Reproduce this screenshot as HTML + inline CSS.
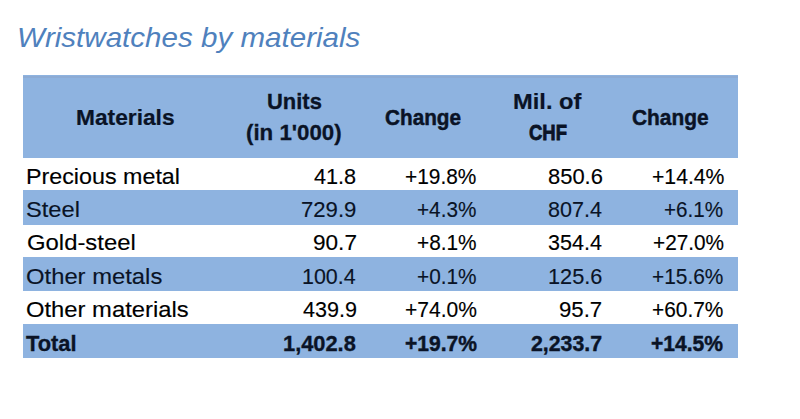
<!DOCTYPE html>
<html><head><meta charset="utf-8"><style>
html,body{margin:0;padding:0;background:#fff;width:800px;height:419px;overflow:hidden}
body{position:relative;font-family:"Liberation Sans",sans-serif}
.t{position:absolute;white-space:nowrap;line-height:normal;transform-origin:0 0}
.b{position:absolute;background:#8EB3E0}
</style></head><body>
<div class="b" style="left:23px;top:75.2px;width:714.5px;height:83.3px"></div><div class="b" style="left:23px;top:190.3px;width:714.5px;height:34.3px"></div><div class="b" style="left:23px;top:257.2px;width:714.5px;height:34.1px"></div><div class="b" style="left:23px;top:324.0px;width:714.5px;height:34.0px"></div><div class="b" style="left:23px;top:76px;width:714.5px;height:2px;background:#8DABD4"></div><div class="t" style="left:17.10px;top:21.56px;font-size:28.00px;font-weight:normal;font-style:italic;transform:scaleX(1.0559);color:#4F81BD;">Wristwatches by materials</div><div class="t" style="left:75.60px;top:103.62px;font-size:22.97px;font-weight:bold;font-style:normal;transform:scaleX(0.9899);color:#0a1326;-webkit-text-stroke:0.23px #0a1326;">Materials</div><div class="t" style="left:267.10px;top:87.72px;font-size:22.97px;font-weight:bold;font-style:normal;transform:scaleX(0.9552);color:#0a1326;-webkit-text-stroke:0.34px #0a1326;">Units</div><div class="t" style="left:246.00px;top:119.22px;font-size:22.97px;font-weight:bold;font-style:normal;transform:scaleX(0.9693);color:#0a1326;-webkit-text-stroke:0.30px #0a1326;">(in 1'000)</div><div class="t" style="left:384.80px;top:103.62px;font-size:22.97px;font-weight:bold;font-style:normal;transform:scaleX(0.9028);color:#0a1326;-webkit-text-stroke:0.51px #0a1326;">Change</div><div class="t" style="left:513.20px;top:87.72px;font-size:22.97px;font-weight:bold;font-style:normal;transform:scaleX(1.0313);color:#0a1326;-webkit-text-stroke:0.20px #0a1326;">Mil. of</div><div class="t" style="left:529.00px;top:119.22px;font-size:22.97px;font-weight:bold;font-style:normal;transform:scaleX(0.8049);color:#0a1326;-webkit-text-stroke:0.82px #0a1326;">CHF</div><div class="t" style="left:632.20px;top:103.62px;font-size:22.97px;font-weight:bold;font-style:normal;transform:scaleX(0.9099);color:#0a1326;-webkit-text-stroke:0.49px #0a1326;">Change</div><div class="t" style="left:26.00px;top:163.02px;font-size:22.97px;font-weight:normal;font-style:normal;transform:scaleX(1.0137);color:#000;-webkit-text-stroke:0.15px #000;">Precious metal</div><div class="t" style="left:313.90px;top:163.02px;font-size:22.97px;font-weight:normal;font-style:normal;transform:scaleX(0.9429);color:#000;-webkit-text-stroke:0.15px #000;">41.8</div><div class="t" style="left:405.10px;top:163.02px;font-size:22.97px;font-weight:normal;font-style:normal;transform:scaleX(0.9083);color:#000;-webkit-text-stroke:0.15px #000;">+19.8%</div><div class="t" style="left:548.20px;top:163.02px;font-size:22.97px;font-weight:normal;font-style:normal;transform:scaleX(0.9555);color:#000;-webkit-text-stroke:0.15px #000;">850.6</div><div class="t" style="left:651.70px;top:163.02px;font-size:22.97px;font-weight:normal;font-style:normal;transform:scaleX(0.9224);color:#000;-webkit-text-stroke:0.15px #000;">+14.4%</div><div class="t" style="left:26.10px;top:196.02px;font-size:22.97px;font-weight:normal;font-style:normal;transform:scaleX(1.0307);color:#0a1326;-webkit-text-stroke:0.15px #0a1326;">Steel</div><div class="t" style="left:301.10px;top:196.02px;font-size:22.97px;font-weight:normal;font-style:normal;transform:scaleX(0.9636);color:#0a1326;-webkit-text-stroke:0.15px #0a1326;">729.9</div><div class="t" style="left:417.00px;top:196.02px;font-size:22.97px;font-weight:normal;font-style:normal;transform:scaleX(0.9028);color:#0a1326;-webkit-text-stroke:0.15px #0a1326;">+4.3%</div><div class="t" style="left:548.10px;top:196.02px;font-size:22.97px;font-weight:normal;font-style:normal;transform:scaleX(0.9371);color:#0a1326;-webkit-text-stroke:0.15px #0a1326;">807.4</div><div class="t" style="left:664.00px;top:196.02px;font-size:22.97px;font-weight:normal;font-style:normal;transform:scaleX(0.8989);color:#0a1326;-webkit-text-stroke:0.15px #0a1326;">+6.1%</div><div class="t" style="left:26.60px;top:229.22px;font-size:22.97px;font-weight:normal;font-style:normal;transform:scaleX(1.0392);color:#000;-webkit-text-stroke:0.15px #000;">Gold-steel</div><div class="t" style="left:312.95px;top:229.22px;font-size:22.97px;font-weight:normal;font-style:normal;transform:scaleX(0.9829);color:#000;-webkit-text-stroke:0.15px #000;">90.7</div><div class="t" style="left:417.00px;top:229.22px;font-size:22.97px;font-weight:normal;font-style:normal;transform:scaleX(0.9062);color:#000;-webkit-text-stroke:0.15px #000;">+8.1%</div><div class="t" style="left:548.10px;top:229.22px;font-size:22.97px;font-weight:normal;font-style:normal;transform:scaleX(0.9371);color:#000;-webkit-text-stroke:0.15px #000;">354.4</div><div class="t" style="left:652.95px;top:229.22px;font-size:22.97px;font-weight:normal;font-style:normal;transform:scaleX(0.9049);color:#000;-webkit-text-stroke:0.15px #000;">+27.0%</div><div class="t" style="left:26.00px;top:263.12px;font-size:22.97px;font-weight:normal;font-style:normal;transform:scaleX(1.0366);color:#0a1326;-webkit-text-stroke:0.15px #0a1326;">Other metals</div><div class="t" style="left:302.05px;top:263.12px;font-size:22.97px;font-weight:normal;font-style:normal;transform:scaleX(0.9336);color:#0a1326;-webkit-text-stroke:0.15px #0a1326;">100.4</div><div class="t" style="left:417.00px;top:263.12px;font-size:22.97px;font-weight:normal;font-style:normal;transform:scaleX(0.9062);color:#0a1326;-webkit-text-stroke:0.15px #0a1326;">+0.1%</div><div class="t" style="left:547.90px;top:263.12px;font-size:22.97px;font-weight:normal;font-style:normal;transform:scaleX(0.9459);color:#0a1326;-webkit-text-stroke:0.15px #0a1326;">125.6</div><div class="t" style="left:652.20px;top:263.12px;font-size:22.97px;font-weight:normal;font-style:normal;transform:scaleX(0.9094);color:#0a1326;-webkit-text-stroke:0.15px #0a1326;">+15.6%</div><div class="t" style="left:26.00px;top:296.22px;font-size:22.97px;font-weight:normal;font-style:normal;transform:scaleX(1.0356);color:#000;-webkit-text-stroke:0.15px #000;">Other materials</div><div class="t" style="left:303.10px;top:296.22px;font-size:22.97px;font-weight:normal;font-style:normal;transform:scaleX(0.9380);color:#000;-webkit-text-stroke:0.15px #000;">439.9</div><div class="t" style="left:405.10px;top:296.22px;font-size:22.97px;font-weight:normal;font-style:normal;transform:scaleX(0.9149);color:#000;-webkit-text-stroke:0.15px #000;">+74.0%</div><div class="t" style="left:559.10px;top:296.22px;font-size:22.97px;font-weight:normal;font-style:normal;transform:scaleX(0.9654);color:#000;-webkit-text-stroke:0.15px #000;">95.7</div><div class="t" style="left:652.20px;top:296.22px;font-size:22.97px;font-weight:normal;font-style:normal;transform:scaleX(0.9094);color:#000;-webkit-text-stroke:0.15px #000;">+60.7%</div><div class="t" style="left:26.10px;top:330.22px;font-size:22.97px;font-weight:bold;font-style:normal;transform:scaleX(0.9519);color:#0a1326;-webkit-text-stroke:0.35px #0a1326;">Total</div><div class="t" style="left:282.95px;top:330.22px;font-size:22.97px;font-weight:bold;font-style:normal;transform:scaleX(0.9503);color:#0a1326;-webkit-text-stroke:0.36px #0a1326;">1,402.8</div><div class="t" style="left:405.00px;top:330.22px;font-size:22.97px;font-weight:bold;font-style:normal;transform:scaleX(0.9159);color:#0a1326;-webkit-text-stroke:0.47px #0a1326;">+19.7%</div><div class="t" style="left:531.00px;top:330.22px;font-size:22.97px;font-weight:bold;font-style:normal;transform:scaleX(0.9273);color:#0a1326;-webkit-text-stroke:0.43px #0a1326;">2,233.7</div><div class="t" style="left:651.10px;top:330.22px;font-size:22.97px;font-weight:bold;font-style:normal;transform:scaleX(0.9158);color:#0a1326;-webkit-text-stroke:0.47px #0a1326;">+14.5%</div></body></html>
